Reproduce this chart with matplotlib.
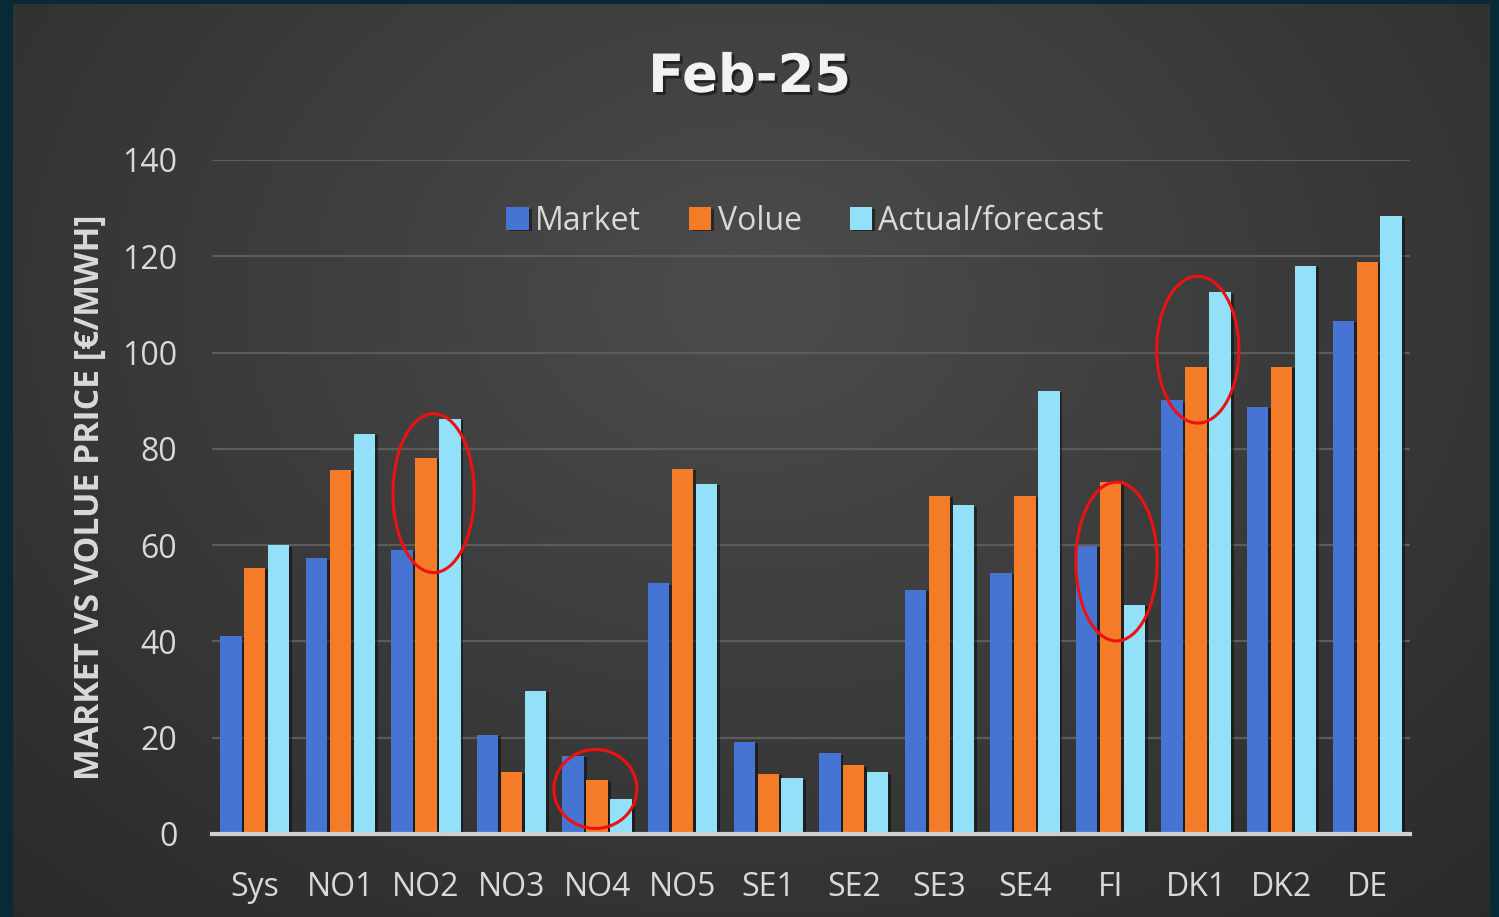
import numpy as np
import matplotlib
matplotlib.use('Agg')
import matplotlib.pyplot as plt
import matplotlib.patheffects as pe
from matplotlib.patches import Ellipse

# price areas and monthly prices (EUR/MWh)
areas = ['Sys', 'NO1', 'NO2', 'NO3', 'NO4', 'NO5', 'SE1', 'SE2',
         'SE3', 'SE4', 'FI', 'DK1', 'DK2', 'DE']
market = [41.1, 57.3, 59.0, 20.6, 16.2, 52.1, 19.2, 16.8,
          50.7, 54.2, 59.8, 90.1, 88.7, 106.6]
volue = [55.3, 75.7, 78.1, 12.8, 11.2, 75.8, 12.5, 14.3,
         70.2, 70.2, 73.1, 97.0, 97.0, 118.9]
actual = [60.0, 83.1, 86.2, 29.7, 7.2, 72.7, 11.6, 12.8,
          68.3, 92.0, 47.6, 112.5, 118.0, 128.3]

# highlighted groups: area, x shift, y centre, width, height
circled = [('NO2', 0.09, 70.8, 0.95, 33.0),
           ('NO4', -0.02, 9.35, 0.97, 16.4),
           ('FI', 0.07, 56.6, 0.95, 33.0),
           ('DK1', 0.02, 100.6, 0.96, 30.5)]

W, H = 1499, 917
fig = plt.figure(figsize=(W / 100, H / 100), dpi=100)
fig.patch.set_facecolor('#082a36')

# grey panel with soft radial shading
bg = fig.add_axes([13 / W, 0, (1490 - 13) / W, (H - 4) / H])
bg.set_axis_off()
yy, xx = np.mgrid[0:1:400j, 0:1:600j]
r = np.sqrt(((xx - 0.5) / 0.75) ** 2 + ((yy - 0.32) / 0.95) ** 2)
r = np.clip(r, 0, 1)
inner = np.array([0x4c, 0x4c, 0x4c]) / 255
outer = np.array([0x29, 0x29, 0x29]) / 255
img = inner[None, None, :] * (1 - r[..., None]) + outer[None, None, :] * r[..., None]
bg.imshow(img, aspect='auto', extent=[0, 1, 1, 0])
bg.set_xlim(0, 1)
bg.set_ylim(1, 0)

ax = fig.add_axes([212 / W, 83 / H, (1410 - 212) / W, (834 - 160) / H])
ax.patch.set_alpha(0)

font = 'Open Sans'
txt = '#d9d9d9'
fs = 23
x = np.arange(len(areas))
step = 0.28
bw = 0.25
shadow = [pe.SimplePatchShadow(offset=(2, -1), shadow_rgbFace='black', alpha=0.45), pe.Normal()]

b1 = ax.bar(x - step, market, bw, color='#4674d3', label='Market', zorder=3)
b2 = ax.bar(x, volue, bw, color='#f47b27', label='Volue', zorder=3)
b3 = ax.bar(x + step, actual, bw, color='#93e0f9', label='Actual/forecast', zorder=3)
for group in (b1, b2, b3):
    for b in group:
        b.set_path_effects(shadow)

for name, dx, yc, ew, eh in circled:
    i = areas.index(name)
    ax.add_patch(Ellipse((i + dx, yc), ew, eh, fill=False, edgecolor='#ee1111',
                         linewidth=2.2, zorder=5))

ax.set_xlim(-0.5, len(areas) - 0.5)
ax.set_ylim(0, 140)
ax.set_yticks(np.arange(0, 141, 20))
ax.set_xticks(x)
ax.set_xticklabels(areas)
ax.grid(axis='y', color='#5c5c5c', linewidth=1.6, zorder=0)
for s in ['top', 'right', 'left']:
    ax.spines[s].set_visible(False)
ax.spines['bottom'].set_color('#d0d0d0')
ax.spines['bottom'].set_linewidth(3)
ax.spines['bottom'].set_zorder(4)
ax.tick_params(length=0, colors=txt, labelsize=fs)
ax.tick_params(axis='y', pad=25)
ax.tick_params(axis='x', pad=27)
for lab in ax.get_xticklabels() + ax.get_yticklabels():
    lab.set_fontfamily(font)

ax.set_ylabel('MARKET VS VOLUE PRICE [€/MWH]', fontfamily=font, fontweight='bold',
              fontsize=24.3, color=txt, labelpad=11)

leg = ax.legend(loc='center', bbox_to_anchor=(0.495, 0.909), ncol=3, frameon=False,
                prop={'family': font, 'size': fs}, handlelength=0.7, handleheight=0.7,
                handletextpad=0.2, columnspacing=1.5)
for t in leg.get_texts():
    t.set_color(txt)

fig.text(0.5, 1 - 77 / H, 'Feb-25', ha='center', va='center', fontfamily='DejaVu Sans',
         fontweight='bold', fontsize=38, color='#f2f2f2',
         path_effects=[pe.withSimplePatchShadow(offset=(2, -2), shadow_rgbFace='black', alpha=0.5)])

fig.savefig('out.png', dpi=100, facecolor=fig.get_facecolor())
